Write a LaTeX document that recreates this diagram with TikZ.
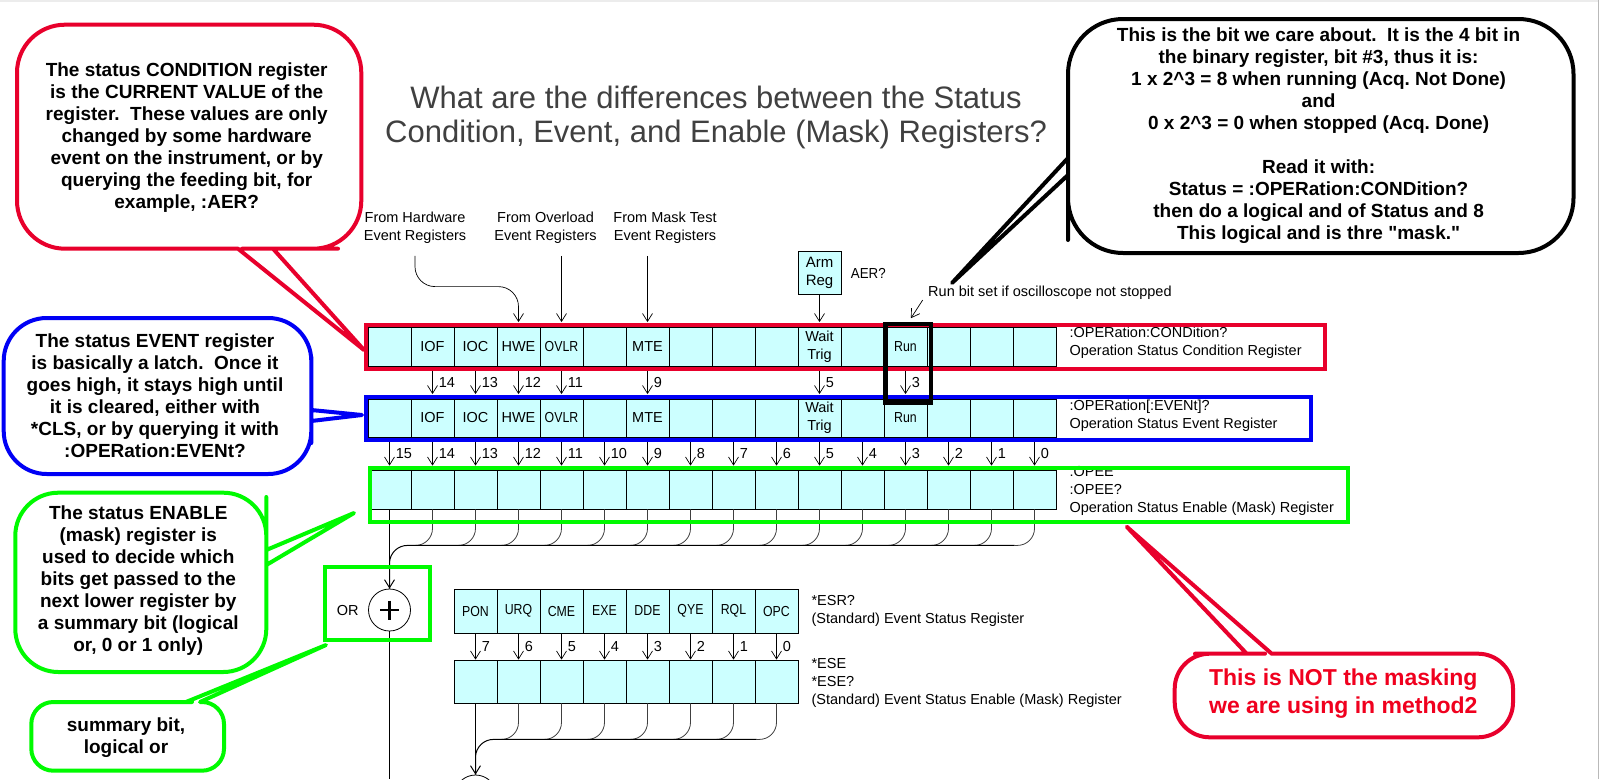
\documentclass[tikz,border=0pt]{standalone}
\usepackage{fontspec}
\setmainfont{Liberation Sans}
\usepackage{graphicx}
\usetikzlibrary{arrows.meta,positioning,calc}

\definecolor{regred}{RGB}{232,0,44}
\definecolor{regblue}{RGB}{0,0,245}
\definecolor{reggreen}{RGB}{0,250,0}
\definecolor{cellcyan}{RGB}{204,255,255}
\definecolor{titlegray}{RGB}{64,64,64}
\definecolor{notered}{RGB}{240,0,30}

\newcommand\regfont{\fontsize{14.5}{18}\selectfont}
\newcommand\notefont{\fontsize{19}{22}\selectfont\bfseries}
\newcommand\squeeze[1]{\scalebox{0.85}[1]{#1}}

\tikzset{
    cell/.style={draw, line width=0.8pt, fill=cellcyan, minimum width=43pt, minimum height=39pt, inner sep=0pt, align=center, font=\regfont},
    bitarrow/.style={-{Straight Barb[length=8pt,width=10pt]}, line width=0.7pt},
    bitnum/.style={right=4.5pt, font=\regfont, inner sep=1.5pt},
    drop/.style={line width=0.8pt, black!75},
    bus/.style={line width=1pt},
    regframe/.style={line width=4pt},
    callout/.style={line width=4pt, fill=white, line join=round},
    notetext/.style={align=center, font=\notefont},
    regname/.style={anchor=west, align=left, font=\regfont},
    gate/.style={circle, draw, line width=0.8pt, minimum size=42pt, inner sep=0pt}
}

\begin{document}
\begin{tikzpicture}[x=1pt, y=-1pt]
\useasboundingbox (0,0) rectangle (1600,779);
\fill[white] (0,0) rectangle (1600,779);
\draw[gray!15, line width=1.5pt] (0,0.75) -- (1598.5,0.75);
\draw[gray!55, line width=1.2pt] (1598.5,0) -- (1598.5,779);

% title
\node[align=center, font=\fontsize{31}{34}\selectfont, text=titlegray] (title) at (716,117.5)
    {What are the differences between the Status\\Condition, Event, and Enable (Mask) Registers?};

% condition, event and enable registers
\foreach \i in {0,...,15} {
    \node[cell] (cond\i) at (389.5+43*\i, 346.5) {};
    \node[cell, minimum height=38pt] (evt\i) at (389.5+43*\i, 418) {};
    \node[cell] (ena\i) at (389.5+43*\i, 489.5) {};
}
\foreach \i/\t in {1/IOF,2/IOC,3/HWE,4/\squeeze{OVLR},6/MTE,10/{Wait\\Trig},12/\squeeze{Run}} {
    \node[align=center, font=\regfont] at (cond\i) {\t};
    \node[align=center, font=\regfont] at (evt\i) {\t};
}
\foreach \i/\b in {1/14,2/13,3/12,4/11,6/9,10/5,12/3}
    \draw[bitarrow, shorten >=4.5pt] (cond\i.south) -- node[bitnum] {\b} (evt\i.north);
\foreach \i in {0,...,15} {
    \pgfmathtruncatemacro\b{15-\i}
    \draw[bitarrow, shorten >=4pt] (evt\i.south) -- node[bitnum] {\b} (ena\i.north);
}

\node[regname] (condname) at (1066,343) {:OPERation:CONDition?\\Operation Status Condition Register};
\node[regname] (evtname) at (1066,416) {:OPERation[:EVENt]?\\Operation Status Event Register};
\node[regname] (enaname) at (1066,491) {:OPEE\\:OPEE?\\Operation Status Enable (Mask) Register};

% inputs
\node[align=center, font=\regfont] (hwsrc) at (415,228) {From Hardware\\Event Registers};
\node[align=center, font=\regfont] (ovsrc) at (545.5,228) {From Overload\\Event Registers};
\node[align=center, font=\regfont] (mtsrc) at (665,228) {From Mask Test\\Event Registers};
\draw[bitarrow, rounded corners=20pt, shorten <=8.5pt, shorten >=4.5pt]
    (hwsrc.south) |- ($(cond3.north)+(0,-40)$) -- (cond3.north);
\draw[bitarrow, shorten <=8.5pt, shorten >=4.5pt] (cond4.north |- ovsrc.south) -- (cond4.north);
\draw[bitarrow, shorten <=8.5pt, shorten >=4.5pt] (cond6.north |- mtsrc.south) -- (cond6.north);

\node[cell, minimum height=42.5pt, font=\fontsize{15}{18}\selectfont] (armreg) at (819.5,273) {Arm\\Reg};
\draw[bitarrow, shorten >=4.5pt] (armreg.south) -- (cond10.north);
\node[right=6pt of armreg, font=\regfont] (aer) {\scalebox{0.92}[1]{AER?}};

\node[anchor=west, font=\regfont] (runnote) at (924.7,292.7) {Run bit set if oscilloscope not stopped};
\coordinate (runfrom) at (922.7,300);
\draw[bitarrow, shorten >=10pt] (runfrom) -- (cond12.north);

% summary of the enable register
\foreach \i in {1,...,15}
    \draw[drop, rounded corners=17pt] (ena\i.south) |- ++(-20,36);
\node[gate] (orgate) at (389.5,610) {};
\draw[line width=2.2pt] ($(orgate.center)+(-9.5,0)$) -- ($(orgate.center)+(9.5,0)$);
\draw[line width=2.2pt] ($(orgate.center)+(0,-9.5)$) -- ($(orgate.center)+(0,9.5)$);
\node[left=6pt of orgate, font=\regfont] (ortext) {OR};
\draw[bus, rounded corners=18pt] ($(ena15.south)+(-20,36)$) -| (orgate.north);
\draw[bitarrow, line width=1pt] (ena0.south) -- (orgate.north);
\coordinate (mainend) at (389.5,779);
\draw[line width=0.8pt] (orgate.south) -- (mainend);

% standard event registers
\foreach \t [count=\j from 0] in {PON,URQ,CME,EXE,DDE,QYE,RQL,OPC} {
    \node[cell, minimum height=44pt] (esr\j) at (475.5+43*\j, 611) {\squeeze{\t}};
    \node[cell, minimum height=43pt] (ese\j) at (475.5+43*\j, 681.5) {};
}
\foreach \j in {0,...,7} {
    \pgfmathtruncatemacro\b{7-\j}
    \draw[bitarrow] (esr\j.south) -- node[bitnum] {\b} (ese\j.north);
}
\foreach \j in {1,...,7}
    \draw[drop, rounded corners=17pt] (ese\j.south) |- ++(-20,36);
\node[gate] (sumgate) at (475.5,796) {};
\draw[bus, rounded corners=18pt] ($(ese7.south)+(-20,36)$) -| (sumgate.north);
\draw[bitarrow, line width=1pt] (ese0.south) -- (sumgate.north);

\node[regname] (esrname) at (808,611) {*ESR?\\(Standard) Event Status Register};
\node[regname] (esename) at (808,683) {*ESE\\{}*ESE?\\(Standard) Event Status Enable (Mask) Register};

% frames
\draw[regframe, regred] (366,324.5) rectangle (1325,368.5);
\draw[regframe, regblue] (366,397) rectangle (1311,439.5);
\draw[regframe, reggreen] (369.5,468) rectangle (1348,522);
\draw[regframe, reggreen] (325,566.5) rectangle (430,640);
\draw[line width=4.5pt] (885.5,324) rectangle (931,402.5);

% callouts
\draw[callout, draw=regred] (190,24.7) [rounded corners=48pt] -- (361.3,24.7) -- (361.3,248.7)
    -- (290,248.7) [sharp corners] -- (273,248.7) -- (364,350) -- (238,248.7)
    -- (220,248.7) [rounded corners=48pt] -- (17,248.7) -- (17,24.7) -- cycle;
\node[notetext] (condnote) at (186.7,137.5) {The status CONDITION register\\is the CURRENT VALUE of the\\register.\ \ These values are only\\changed by some hardware\\event on the instrument, or by\\querying the feeding bit, for\\example, :AER?};

\draw[callout, draw=regblue] (150,318) [rounded corners=43pt] -- (311.3,318) -- (311.3,400)
    [sharp corners] -- (311.3,410) -- (362,415) -- (311.3,421)
    -- (311.3,430) [rounded corners=43pt] -- (311.3,474) -- (3.7,474) -- (3.7,318) -- cycle;
\node[notetext] (evtnote) at (155,396) {The status EVENT register\\is basically a latch.\ \ Once it\\goes high, it stays high until\\it is cleared, either with\\{}*CLS, or by querying it with\\:OPERation:EVENt?};

\draw[callout, draw=reggreen] (140,492.7) [rounded corners=43pt] -- (266.3,492.7) -- (266.3,540)
    [sharp corners] -- (266.3,550) -- (354,513) -- (266.3,565)
    -- (266.3,580) [rounded corners=43pt] -- (266.3,672) -- (15.3,672) -- (15.3,492.7) -- cycle;
\node[notetext] (enanote) at (138.3,581) {The status ENABLE\\(mask) register is\\used to decide which\\bits get passed to the\\next lower register by\\a summary bit (logical\\or, 0 or 1 only)};

\draw[callout, draw=reggreen] (100,702) [rounded corners=22pt] -- (170,702)
    [sharp corners] -- (186,702) -- (326,645) -- (200,702)
    -- (201,702) [rounded corners=22pt] -- (224,702) -- (224,770.7) -- (31.3,770.7) -- (31.3,702) -- cycle;
\node[notetext] (sumnote) at (126,737.5) {summary bit,\\logical or};

\draw[callout, draw=black] (1300,19) [rounded corners=55pt] -- (1573.5,19) -- (1573.5,253)
    -- (1068,253) -- (1068,185) [sharp corners] -- (1068,175) -- (952,283) -- (1068,158)
    -- (1068,140) [rounded corners=55pt] -- (1068,19) -- cycle;
\node[notetext] (bitnote) at (1318.6,135.5) {This is the bit we care about.\ \ It is the 4 bit in\\the binary register, bit \#3, thus it is:\\1 x 2\textasciicircum 3 = 8 when running (Acq.\ Not Done)\\and\\0 x 2\textasciicircum 3 = 0 when stopped (Acq.\ Done)\\[22pt]Read it with:\\Status = :OPERation:CONDition?\\then do a logical and of Status and 8\\This logical and is thre \textquotedbl mask.\textquotedbl};

\draw[callout, draw=regred] (1400,653.7) [rounded corners=35pt] -- (1513,653.7) -- (1513,737.3)
    -- (1174.7,737.3) -- (1174.7,653.7) -- (1230,653.7) [sharp corners] -- (1246.7,653.7)
    -- (1126.7,526.7) -- (1271.7,653.7) -- (1290,653.7) [rounded corners=35pt] -- cycle;
\node[align=center, font=\fontsize{23}{28}\selectfont\bfseries, text=notered] (masknote) at (1343.3,694)
    {This is NOT the masking\\we are using in method2};
\end{tikzpicture}
\end{document}
